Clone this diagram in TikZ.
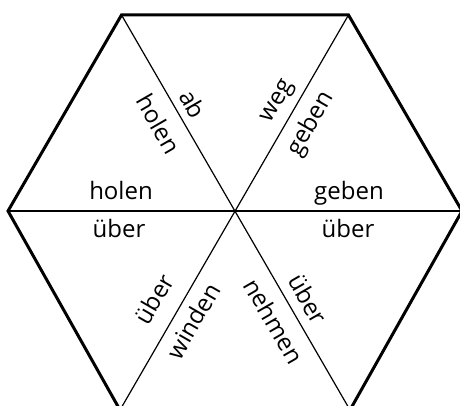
\documentclass[tikz,border=0pt]{standalone}
\usepackage{fontspec}
\setmainfont{Open Sans}
\begin{document}
\begin{tikzpicture}[x=1pt,y=1pt,
  outer/.style={line width=3pt,line join=miter},
  inner/.style={line width=1.2pt},
  lbl/.style={inner sep=0pt,font=\fontsize{24}{28}\selectfont}]
\useasboundingbox (0,0) rectangle (460,406);
\coordinate (C) at (235,195);
\coordinate (L) at (8,195);
\coordinate (R) at (462,195);
\coordinate (TL) at (121.5,391);
\coordinate (TR) at (348.5,391);
\coordinate (BL) at (120,-4);
\coordinate (BR) at (350,-4);
% outer hexagon
\draw[outer] (L) -- (TL) -- (TR) -- (R) -- (BR) -- (BL) -- cycle;
% inner lines
\draw[inner] (L) -- (R);
\draw[inner] (TL) -- (BR);
\draw[inner] (TR) -- (BL);
% horizontal labels
\node[lbl,anchor=base] (h1) at (121,206) {holen};
\node[lbl,anchor=base] (u1) at (119,168) {über};
\node[lbl,anchor=base] (g1) at (349,206) {geben};
\node[lbl,anchor=base] (u2) at (348,168) {über};
% diagonal labels
\node[lbl,rotate=-60] (ab) at (193,302) {ab};
\node[lbl,rotate=-60] (h2) at (159,282) {holen};
\node[lbl,rotate=60] (weg) at (279,304) {weg};
\node[lbl,rotate=60] (g2) at (311,282) {geben};
\node[lbl,rotate=60] (u3) at (154,107) {über};
\node[lbl,rotate=60] (wi) at (193,85) {winden};
\node[lbl,rotate=-60] (u4) at (308,107) {über};
\node[lbl,rotate=-60] (ne) at (274,85) {nehmen};
\end{tikzpicture}
\end{document}
